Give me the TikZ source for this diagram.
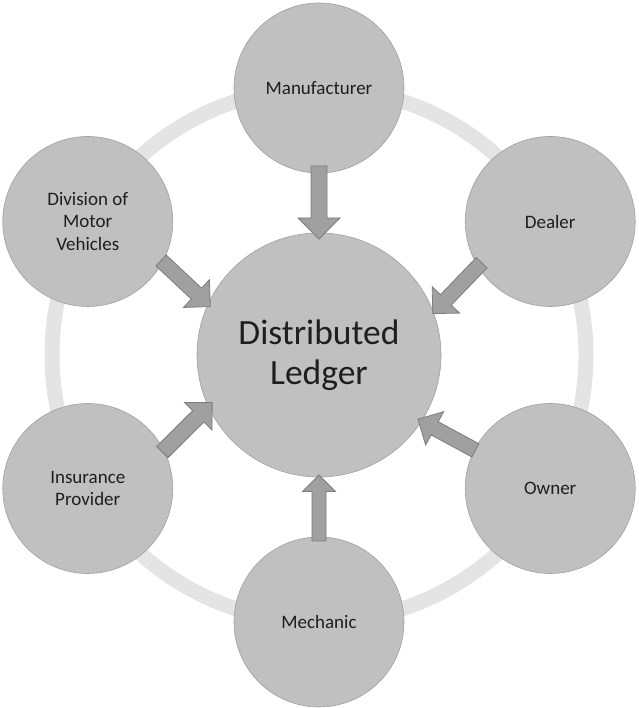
\documentclass[tikz,border=0pt]{standalone}
\usepackage{fontspec}
\setmainfont{Carlito}
\usetikzlibrary{calc}
\definecolor{ringgray}{RGB}{228,228,228}
\definecolor{nodegray}{RGB}{192,192,192}
\definecolor{nodeline}{RGB}{160,160,160}
\definecolor{arrowfill}{RGB}{160,160,160}
\definecolor{arrowline}{RGB}{125,125,125}
\definecolor{textgray}{RGB}{30,30,30}
\newcommand{\fatarrow}[4]{%
\coordinate (#2h) at ($(#2)!#4pt!(#1)$);
\filldraw[blockarrow] ($(#1)!#3pt!90:(#2)$) -- ($(#2h)!#3pt!90:(#2)$) -- ($(#2h)!#4pt!90:(#2)$) -- (#2) -- ($(#2h)!#4pt!-90:(#2)$) -- ($(#2h)!#3pt!-90:(#2)$) -- ($(#1)!#3pt!-90:(#2)$) -- cycle;}

\begin{document}
\begin{tikzpicture}[x=1pt, y=1pt,
member/.style={circle, fill=nodegray, draw=nodeline, line width=0.6pt, minimum size=170pt, inner sep=0pt, align=center, text=textgray, font=\fontsize{19}{22.5}\selectfont},
hub/.style={circle, fill=nodegray, draw=nodeline, line width=0.6pt, minimum size=244pt, inner sep=0pt, align=center, text=textgray, font=\fontsize{35.5}{40}\selectfont},
blockarrow/.style={fill=arrowfill, draw=arrowline, line width=0.8pt, line join=miter}]
\useasboundingbox (0,0) rectangle (638,708);
\draw[ringgray, line width=15pt] (319,353) circle (267);
\node[hub] (ledger) at (319,353) {Distributed\\Ledger};
\node[member] (man) at ($(ledger)+(90:267)$) {Manufacturer};
\node[member] (dealer) at ($(ledger)+(30:267)$) {Dealer};
\node[member] (owner) at ($(ledger)+(-30:267)$) {Owner};
\node[member] (mech) at ($(ledger)+(-90:267)$) {Mechanic};
\node[member] (ins) at ($(ledger)+(-150:267)$) {Insurance\\Provider};
\node[member] (dmv) at ($(ledger)+(150:267)$) {Division of\\Motor\\Vehicles};
\coordinate (mant) at ($(man)+(-90:78)$);
\coordinate (manp) at ($(ledger)+(90:116)$);
\coordinate (dealert) at ($(dealer)+(211:80)$);
\coordinate (dealerp) at ($(ledger)+(20:121)$);
\coordinate (ownert) at ($(owner)+(153:84)$);
\coordinate (ownerp) at ($(ledger)+(-33:118)$);
\coordinate (mecht) at ($(mech)+(90:81)$);
\coordinate (mechp) at ($(ledger)+(-90:120)$);
\coordinate (inst) at ($(ins)+(26:83)$);
\coordinate (insp) at ($(ledger)+(-156:117)$);
\coordinate (dmvt) at ($(dmv)+(-28:83)$);
\coordinate (dmvp) at ($(ledger)+(156:119)$);
\fatarrow{mant}{manp}{8}{21}
\fatarrow{dealert}{dealerp}{7.5}{19}
\fatarrow{ownert}{ownerp}{7.5}{19}
\fatarrow{mecht}{mechp}{7}{16.5}
\fatarrow{inst}{insp}{8}{19.5}
\fatarrow{dmvt}{dmvp}{7.5}{19}
\end{tikzpicture}
\end{document}
